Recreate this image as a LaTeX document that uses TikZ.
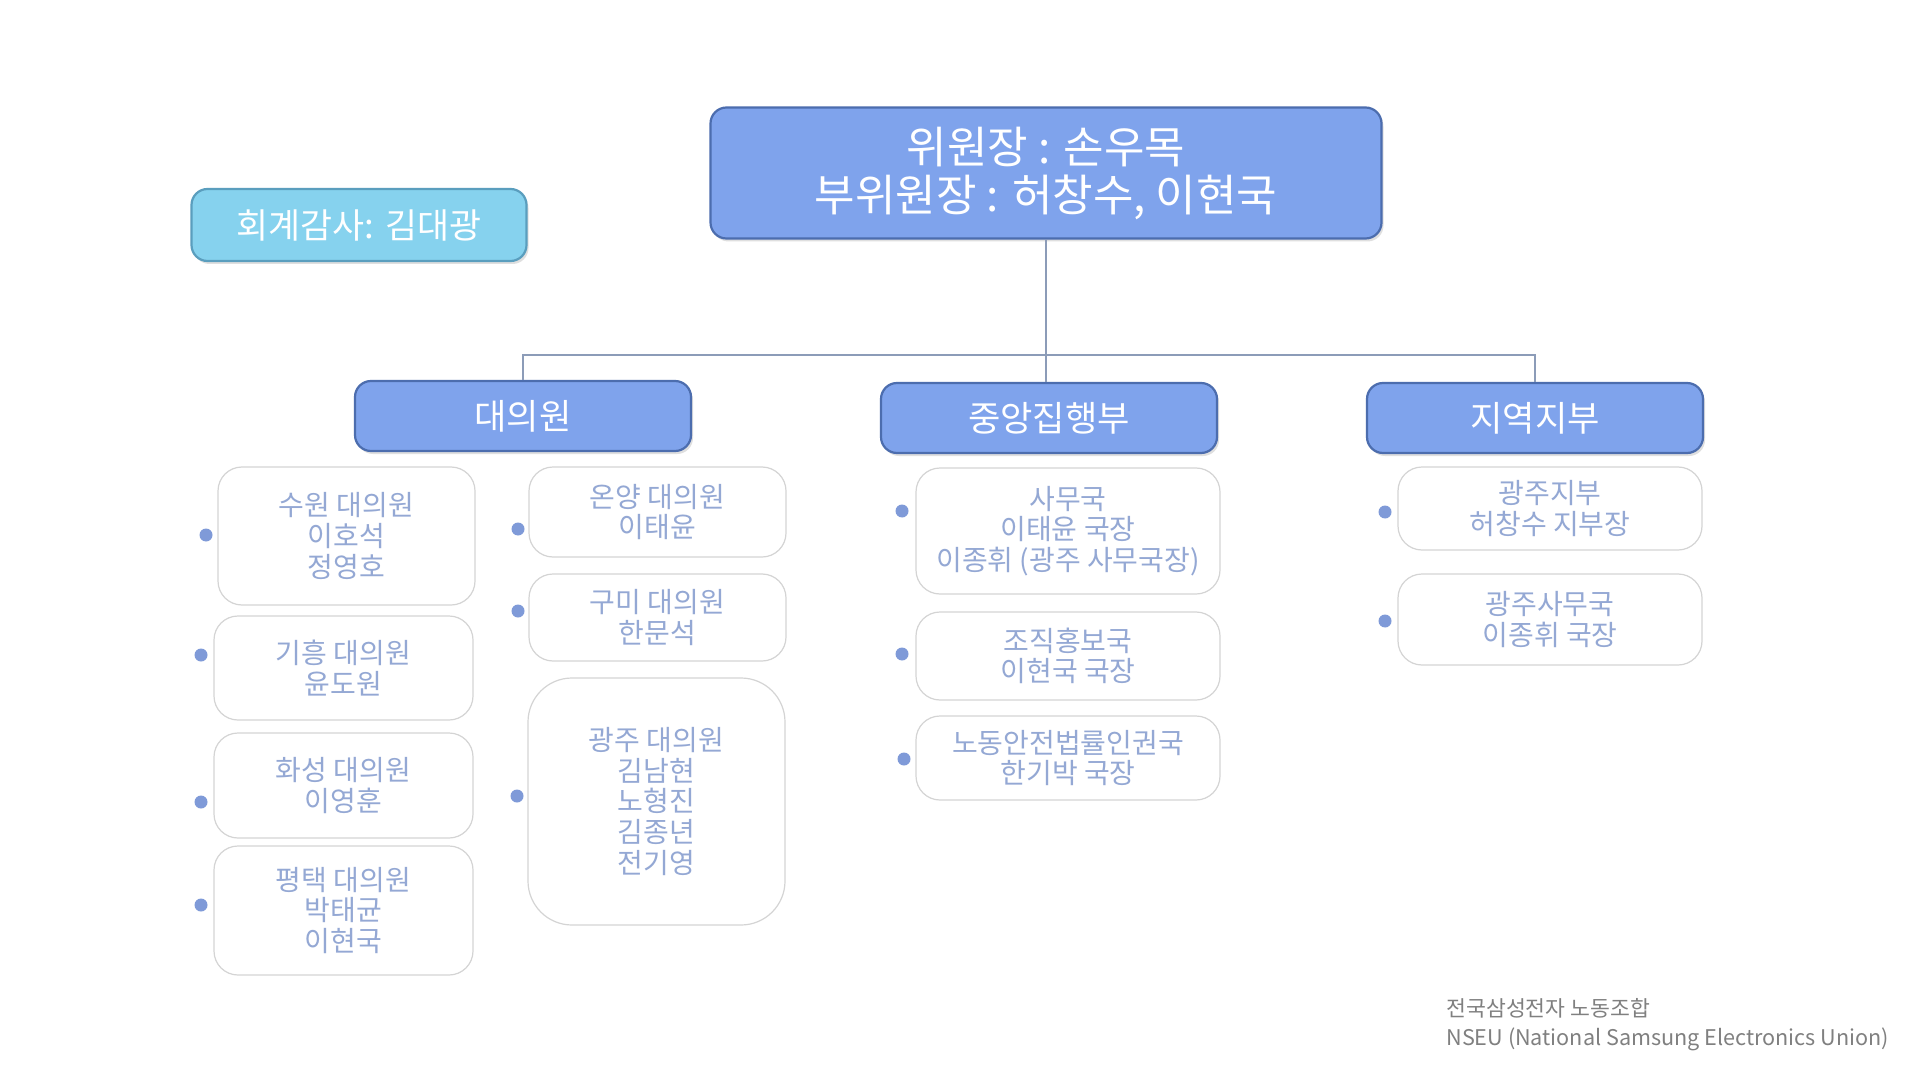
\documentclass[tikz,border=0pt]{standalone}
\usepackage{fontspec}
\setmainfont{Noto Sans CJK KR}
\usetikzlibrary{shadows}
\definecolor{headfill}{HTML}{7FA3EC}
\definecolor{headborder}{HTML}{4C6DAE}
\definecolor{auditfill}{HTML}{86D2EE}
\definecolor{auditborder}{HTML}{5A9EBE}
\definecolor{childborder}{HTML}{D4D4D4}
\definecolor{childtext}{HTML}{94A8D4}
\definecolor{dotcol}{HTML}{7F9AD8}
\definecolor{conncol}{HTML}{8C9CB8}
\definecolor{foot}{HTML}{808080}
\begin{document}
\begin{tikzpicture}[x=0.5pt,y=-0.5pt,
  head/.style={draw=headborder, line width=1.1pt, fill=headfill, rounded corners=8pt,
    text=white, align=center, inner sep=0pt,
    drop shadow={opacity=0.25, shadow xshift=1pt, shadow yshift=-1.5pt}},
  audit/.style={head, draw=auditborder, fill=auditfill},
  child/.style={draw=childborder, line width=0.6pt, fill=white, rounded corners=12pt,
    text=childtext, align=center, inner sep=0pt,
    font=\fontsize{14}{15.3}\selectfont},
  dotmark/.style={circle, fill=dotcol, inner sep=0pt, minimum size=6.5pt},
  conn/.style={draw=conncol, line width=0.6pt}]
\useasboundingbox[fill=white] (0,0) rectangle (1920,1080);

% top
\node[head, minimum width=335.5pt, minimum height=65.5pt, font=\fontsize{22}{24}\selectfont]
  (top) at (1046,173) {위원장 : 손우목\\부위원장 : 허창수, 이현국};
\node[audit, minimum width=167.5pt, minimum height=36pt, font=\fontsize{17.4}{20}\selectfont]
  (audit) at (359,225) {회계감사: 김대광};

% level 2
\node[head, minimum width=168pt, minimum height=35pt, font=\fontsize{17.6}{20}\selectfont]
  (daeui) at (523,416) {대의원};
\node[head, minimum width=168pt, minimum height=35pt, font=\fontsize{17.6}{20}\selectfont]
  (jung) at (1049,418) {중앙집행부};
\node[head, minimum width=168pt, minimum height=35pt, font=\fontsize{17.6}{20}\selectfont]
  (jiyeok) at (1535,418) {지역지부};

% connectors
\coordinate (bus) at (1046,355);
\draw[conn] (top.south) -- (bus);
\draw[conn] (daeui.north) -- (daeui.north |- bus) -- (jiyeok.north |- bus) -- (jiyeok.north);
\draw[conn] (bus) -- (bus |- jung.north);

% 대의원 children
\node[child, minimum width=128.5pt, minimum height=69pt] (suwon) at (346.5,536) {수원 대의원\\이호석\\정영호};
\node[child, minimum width=129.5pt, minimum height=52pt] (giheung) at (343.5,668) {기흥 대의원\\윤도원};
\node[child, minimum width=129.5pt, minimum height=52.5pt] (hwaseong) at (343.5,785.5) {화성 대의원\\이영훈};
\node[child, minimum width=129.5pt, minimum height=64.5pt] (pyeongtaek) at (343.5,910.5) {평택 대의원\\박태균\\이현국};
\node[child, minimum width=128.5pt, minimum height=45pt] (onyang) at (657.5,512) {온양 대의원\\이태윤};
\node[child, minimum width=128.5pt, minimum height=43.5pt] (gumi) at (657.5,617.5) {구미 대의원\\한문석};
\node[child, rounded corners=22pt, minimum width=128.5pt, minimum height=123.5pt] (gwangju) at (656.5,801.5) {광주 대의원\\김남현\\노형진\\김종년\\전기영};

\node[dotmark] (d1) at (206,535) {};
\node[dotmark] (d2) at (201,655) {};
\node[dotmark] (d3) at (201,802) {};
\node[dotmark] (d4) at (201,905) {};
\node[dotmark] (d5) at (518,529) {};
\node[dotmark] (d6) at (518,611) {};
\node[dotmark] (d7) at (517,796) {};

% 중앙집행부 children
\node[child, minimum width=152pt, minimum height=63pt] (samu) at (1068,531) {사무국\\이태윤 국장\\이종휘 (광주 사무국장)};
\node[child, minimum width=152pt, minimum height=44pt] (jojik) at (1068,656) {조직홍보국\\이현국 국장};
\node[child, minimum width=152pt, minimum height=42pt] (nodong) at (1068,758) {노동안전법률인권국\\한기박 국장};
\node[dotmark] (d8) at (902,511) {};
\node[dotmark] (d9) at (902,654) {};
\node[dotmark] (d10) at (904,759) {};

% 지역지부 children
\node[child, minimum width=152pt, minimum height=41.5pt] (gjjibu) at (1550,508.5) {광주지부\\허창수 지부장};
\node[child, minimum width=152pt, minimum height=45.5pt] (gjsamu) at (1550,619.5) {광주사무국\\이종휘 국장};
\node[dotmark] (d11) at (1385,512) {};
\node[dotmark] (d12) at (1385,621) {};

% footer
\node[anchor=west, align=left, text=foot, inner sep=0pt, font=\fontsize{10.8}{14.5}\selectfont]
  (footer) at (1446,1025) {전국삼성전자 노동조합\\NSEU (National Samsung Electronics Union)};
\end{tikzpicture}
\end{document}
